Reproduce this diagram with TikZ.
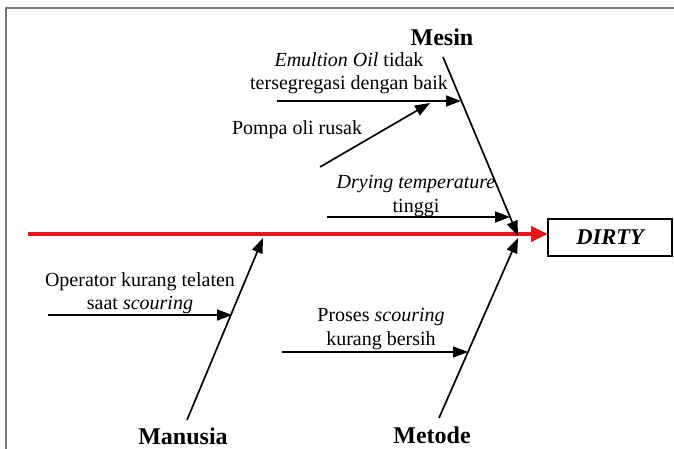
\documentclass[tikz,border=0pt]{standalone}
\usepackage{fontspec}
\setmainfont{Liberation Serif}
\usetikzlibrary{arrows.meta,calc}
\definecolor{spinered}{RGB}{232,22,28}
\definecolor{framegray}{RGB}{120,120,120}
\tikzset{
  cause/.style={font=\fontsize{20}{23.5}\selectfont, align=center, inner sep=0pt},
  cat/.style={font=\fontsize{24}{28}\selectfont\bfseries, inner sep=0pt},
  bone/.style={line width=1.7pt, -{Triangle[length=15pt,width=11pt]}},
  twig/.style={line width=1.7pt, -{Triangle[length=15pt,width=11pt]}},
  spine/.style={line width=4.5pt, spinered, -{Triangle[length=17pt,width=15pt]}},
  effect/.style={draw, line width=1.5pt, minimum width=124pt, minimum height=37pt, inner sep=0pt,
    font=\fontsize{22.5}{26}\selectfont\bfseries\itshape},
}
\begin{document}
\begin{tikzpicture}[x=1pt,y=-1pt]
\useasboundingbox (0,0) rectangle (674,449);
% frame
\draw[framegray, line width=1.6pt] (6,449) -- (6,8) -- (674,8);
% effect and spine
\node[effect] (dirty) at (610,237.5) {DIRTY};
\coordinate (tail) at (28,234);
\coordinate (head) at (548,234);
\draw[spine] (tail) -- (head);
% category labels
\node[cat] (mesin) at (442,37) {Mesin};
\node[cat] (manusia) at (183,436) {Manusia};
\node[cat] (metode) at (432,435) {Metode};
% bones
\coordinate (mesinTop) at (443,57);
\coordinate (mesinEnd) at (518,236);
\coordinate (manBot) at (187,420);
\coordinate (manEnd) at (263,238);
\coordinate (metBot) at (439,418);
\coordinate (metEnd) at (518,238);
\draw[bone] (mesinTop) -- (mesinEnd);
\draw[bone] (manBot) -- (manEnd);
\draw[bone] (metBot) -- (metEnd);
% causes
\node[cause] (emul) at (349,73) {\textit{Emultion Oil} tidak\\tersegregasi dengan baik};
\node[cause] (pompa) at (297,130) {Pompa oli rusak};
\node[cause] (dry) at (416,196) {\textit{Drying temperature}\\tinggi};
\node[cause] (oper) at (140,293) {Operator kurang telaten\\saat \textit{scouring}};
\node[cause] (pros) at (381,329) {Proses \textit{scouring}\\kurang bersih};
% cause arrows
\coordinate (emulS) at (277,101);
\coordinate (emulE) at (461,101);
\coordinate (pompaS) at (320,167);
\coordinate (pompaE) at (430,103);
\coordinate (dryS) at (327,217);
\coordinate (dryE) at (510,217);
\coordinate (operS) at (48,315);
\coordinate (operE) at (232,315);
\coordinate (prosS) at (282,352);
\coordinate (prosE) at (468,352);
\draw[twig] (emulS) -- (emulE);
\draw[twig] (pompaS) -- (pompaE);
\draw[twig] (dryS) -- (dryE);
\draw[twig] (operS) -- (operE);
\draw[twig] (prosS) -- (prosE);
\end{tikzpicture}
\end{document}
